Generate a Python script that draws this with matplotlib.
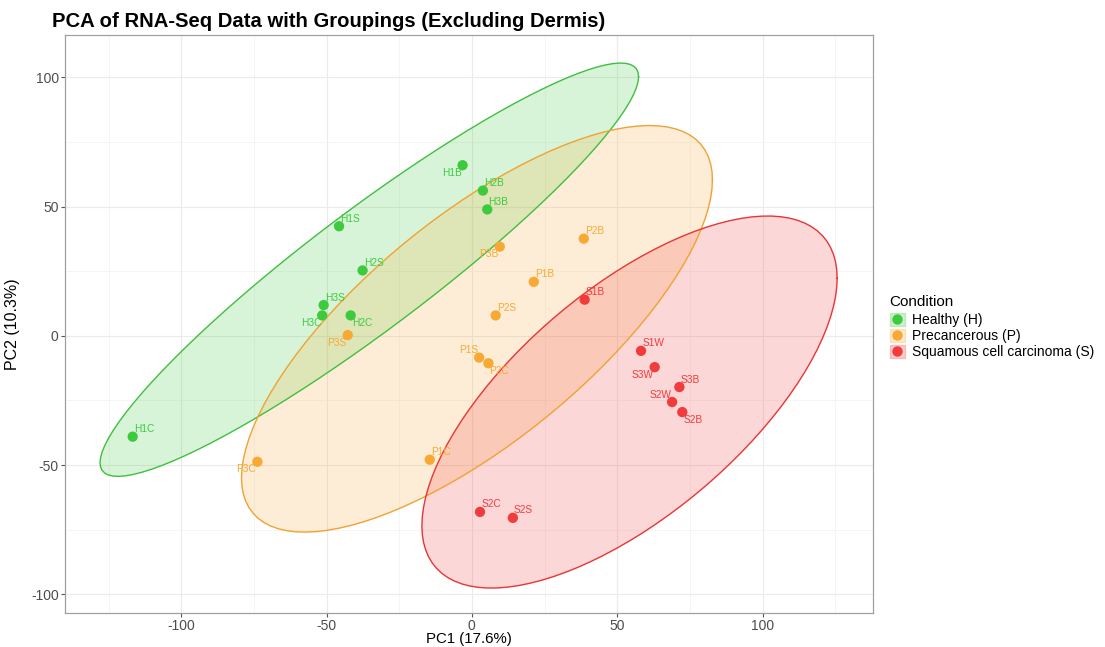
import numpy as np
import matplotlib.pyplot as plt
from matplotlib.patches import Patch
from matplotlib.lines import Line2D

plt.rcParams['font.family'] = ['Liberation Sans', 'DejaVu Sans']
plt.rcParams['axes.unicode_minus'] = False

# PCA scores
groups = ['Healthy (H)', 'Precancerous (P)', 'Squamous cell carcinoma (S)']

h_names = ['H1B', 'H2B', 'H3B', 'H1S', 'H2S', 'H3S', 'H3C', 'H2C', 'H1C']
h_pc1 = [-3.2, 3.8, 5.3, -45.7, -37.6, -51.0, -51.5, -41.7, -116.7]
h_pc2 = [66.0, 56.2, 48.9, 42.4, 25.3, 11.9, 7.9, 7.9, -39.0]

p_names = ['P3S', 'P3B', 'P2B', 'P1B', 'P2S', 'P1S', 'P2C', 'P3C', 'P1C']
p_pc1 = [-42.7, 9.6, 38.5, 21.3, 8.2, 2.5, 5.7, -73.8, -14.5]
p_pc2 = [0.3, 34.5, 37.6, 20.9, 7.9, -8.4, -10.6, -48.7, -47.9]

s_names = ['S1B', 'S1W', 'S3W', 'S3B', 'S2W', 'S2B', 'S2C', 'S2S']
s_pc1 = [38.8, 58.2, 62.9, 71.4, 68.9, 72.4, 2.8, 14.1]
s_pc2 = [14.0, -5.8, -12.1, -19.8, -25.6, -29.5, -68.1, -70.4]

colors = ['#3DCB3D', '#F8A933', '#F23B3B']
edge_colors = ['#3FBF3F', '#F0A232', '#E83535']

# label direction per sample (right/left, up/down), like the repelled labels
label_dir = {
    'H1B': (-1, 1), 'H2B': (1, -1), 'H3B': (1, -1), 'H1S': (1, -1), 'H2S': (1, -1),
    'H3S': (1, -1), 'H3C': (-1, 1), 'H2C': (1, 1), 'H1C': (1, -1),
    'P3S': (-1, 1), 'P3B': (-1, 1), 'P2B': (1, -1), 'P1B': (1, -1), 'P2S': (1, -1),
    'P1S': (-1, -1), 'P2C': (1, 1), 'P3C': (-1, 1), 'P1C': (1, -1),
    'S1B': (1, -1), 'S1W': (1, -1), 'S3W': (-1, 1), 'S3B': (1, -1), 'S2W': (-1, -1),
    'S2B': (1, 1), 'S2C': (1, -1), 'S2S': (1, -1),
}


def cov_trob(x, nu=5, maxit=25, tol=0.01):
    # robust t covariance, same idea as MASS::cov.trob
    n, p = x.shape
    loc = x.mean(axis=0)
    w = np.ones(n)
    for _ in range(maxit):
        w0 = w
        X = x - loc
        u, d, vt = np.linalg.svd(np.sqrt(w / w.sum())[:, None] * X, full_matrices=False)
        wX = X @ vt.T @ np.diag(1 / d)
        Q = (wX ** 2).sum(axis=1)
        w = (nu + p) / (nu + Q)
        loc = (w[:, None] * x).sum(axis=0) / w.sum()
        if np.all(np.abs(w - w0) < tol):
            break
    X = x - loc
    cov = (np.sqrt(w)[:, None] * X).T @ (np.sqrt(w)[:, None] * X) / n
    return loc, cov


def ellipse_xy(x, y, level=0.95, segments=101):
    pts = np.column_stack([x, y])
    center, shape = cov_trob(pts)
    dfd = len(x) - 1
    fq = dfd / 2 * ((1 - level) ** (-2 / dfd) - 1)  # qf(level, 2, dfd)
    radius = np.sqrt(2 * fq)
    chol = np.linalg.cholesky(shape).T
    ang = np.linspace(0, 2 * np.pi, segments)
    circ = np.column_stack([np.cos(ang), np.sin(ang)])
    e = center + radius * circ @ chol
    return e[:, 0], e[:, 1]


fig = plt.figure(figsize=(11.05, 6.47), dpi=100)
ax = fig.add_axes([0.0588, 0.0526, 0.7312, 0.8934])

data = [(h_names, h_pc1, h_pc2), (p_names, p_pc1, p_pc2), (s_names, s_pc1, s_pc2)]

for (names, xs, ys), c, ec in zip(data, colors, edge_colors):
    ex, ey = ellipse_xy(np.array(xs), np.array(ys))
    ax.fill(ex, ey, facecolor=c, alpha=0.2, edgecolor='none', zorder=2)
    ax.plot(ex, ey, color=ec, lw=1.0, zorder=3)

for (names, xs, ys), c in zip(data, colors):
    ax.scatter(xs, ys, s=55, color=c, edgecolor='none', zorder=4)
    for nm, xv, yv in zip(names, xs, ys):
        dx, dy = label_dir[nm]
        ax.annotate(nm, (xv, yv), xytext=(dx * 0.8, -dy * 5.4), textcoords='offset points',
                    ha='left' if dx > 0 else 'right', va='center',
                    fontsize=7.3, color=c, zorder=5)

ax.set_xlim(-140, 138)
ax.set_ylim(-107.2, 116.4)
ax.set_xticks([-100, -50, 0, 50, 100])
ax.set_yticks([-100, -50, 0, 50, 100])
ax.set_xticks(np.arange(-125, 130, 50), minor=True)
ax.set_yticks(np.arange(-75, 100, 50), minor=True)
ax.grid(True, which='major', color='#EBEBEB', lw=0.8, zorder=0)
ax.grid(True, which='minor', color='#F2F2F2', lw=0.5, zorder=0)
ax.set_axisbelow(True)
for sp in ax.spines.values():
    sp.set_color('#A0A0A0')
    sp.set_linewidth(0.9)
ax.tick_params(which='major', length=3, width=0.8, color='#555555', labelcolor='#4D4D4D',
               labelsize=10, pad=1.5)
ax.tick_params(which='minor', length=0)

ax.set_xlabel('PC1 (17.6%)', fontsize=10.8, labelpad=-1)
ax.set_ylabel('PC2 (10.3%)', fontsize=11.5, labelpad=8)
fig.text(0.047, 0.966, 'PCA of RNA-Seq Data with Groupings (Excluding Dermis)',
         fontsize=14.6, fontweight='bold', ha='left', va='center')

handles = []
for c, ec in zip(colors, edge_colors):
    box = Patch(facecolor=c, alpha=0.25, edgecolor=ec, lw=1.0)
    dot = Line2D([], [], marker='o', ls='none', color=c, markersize=6.5)
    handles.append((box, dot))
leg = fig.legend(handles, groups, title='Condition', loc='upper left',
                 bbox_to_anchor=(0.8, 0.553), frameon=False, fontsize=10,
                 title_fontsize=11, handlelength=1.1, handleheight=1.1,
                 handletextpad=0.5, labelspacing=0.12, alignment='left',
                 borderaxespad=0)
leg._legend_box.sep = 3

fig.savefig('out.png', dpi=100)
